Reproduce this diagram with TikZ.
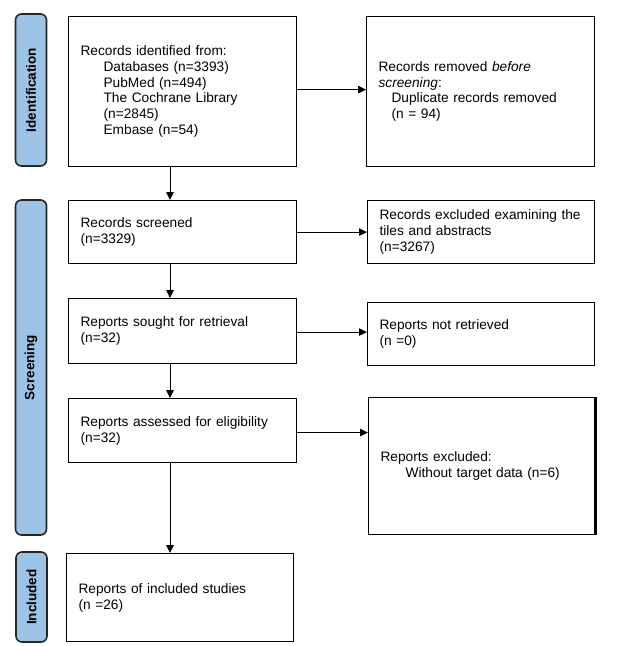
\documentclass[tikz,border=0pt]{standalone}
\usepackage{fontspec}
\setmainfont{Liberation Sans}
\usetikzlibrary{arrows.meta}
\definecolor{labblue}{HTML}{9DC3E6}
\begin{document}
\begin{tikzpicture}[x=1pt,y=-1pt,
  pbox/.style={draw, line width=1.2pt, rectangle, anchor=north west, inner xsep=12pt, inner ysep=2pt, align=left, font=\fontsize{13.7}{15.7}\selectfont},
  lab/.style={draw=black!85, line width=1.6pt, fill=labblue, rounded corners=6pt, rotate=90, inner sep=0pt, font=\fontsize{13.5}{15}\selectfont\bfseries},
  arr/.style={line width=0.9pt, -{Triangle[length=8pt,width=7.5pt]}}]
\useasboundingbox (0,0) rectangle (620,646);
% phase labels
\node[lab, minimum width=152pt, minimum height=31pt] (L1) at (31,90) {Identification};
\node[lab, minimum width=335pt, minimum height=31pt] (L2) at (31,367.5) {Screening};
\node[lab, minimum width=90pt, minimum height=31pt] (L3) at (31.5,597) {Included};
% boxes
\node[pbox, minimum width=228pt, minimum height=150pt, text width=204pt] (b1) at (68,16) {Records identified from:\\
\hspace*{23pt}Databases (n=3393)\\
\hspace*{23pt}PubMed (n=494)\\
\hspace*{23pt}The Cochrane Library\\
\hspace*{23pt}(n=2845)\\
\hspace*{23pt}Embase (n=54)\\[-4pt]};
\node[pbox, minimum width=228pt, minimum height=150pt, text width=204pt] (b2) at (366,16) {Records removed \textit{before}\\
\textit{screening}:\\
\hspace*{13pt}Duplicate records removed\\
\hspace*{13pt}(n = 94)\\[28pt]};
\node[pbox, minimum width=228pt, minimum height=63pt, text width=204pt] (b3) at (68,200) {Records screened\\(n=3329)};
\node[pbox, minimum width=227pt, minimum height=63pt, text width=203pt] (b4) at (367,200) {Records excluded examining the\\tiles and abstracts\\(n=3267)};
\node[pbox, minimum width=228pt, minimum height=65pt, text width=204pt] (b5) at (68,298) {Reports sought for retrieval\\(n=32)};
\node[pbox, minimum width=227pt, minimum height=63pt, text width=203pt] (b6) at (367,302) {Reports not retrieved\\(n =0)};
\node[pbox, minimum width=228pt, minimum height=64pt, text width=204pt] (b7) at (68,398) {Reports assessed for eligibility\\(n=32)};
\node[pbox, minimum width=227pt, minimum height=137pt, text width=203pt] (b8) at (368,397) {Reports excluded:\\
\hspace*{25pt}Without target data (n=6)};
\draw[line width=3pt] ([xshift=-1pt]b8.north east) -- ([xshift=-1pt]b8.south east);
\node[pbox, minimum width=227pt, minimum height=88pt, text width=203pt] (b9) at (66,553) {Reports of included studies\\(n =26)};
% connectors
\draw[arr] ([xshift=102pt]b1.south west) -- ([xshift=102pt]b3.north west);
\draw[arr] ([xshift=102pt]b3.south west) -- ([xshift=102pt]b5.north west);
\draw[arr] ([xshift=102pt]b5.south west) -- ([xshift=102pt]b7.north west);
\draw[arr] ([xshift=102pt]b7.south west) -- ([xshift=104pt]b9.north west);
\draw[arr] ([yshift=2pt]b1.east) -- ([yshift=2pt]b1.east -| b2.west);
\draw[arr] (b3.east) -- (b3.east -| b4.west);
\draw[arr] ([yshift=-1pt]b5.east) -- ([yshift=-1pt]b5.east -| b6.west);
\draw[arr] ([yshift=-2pt]b7.east) -- ([yshift=-2pt]b7.east -| b8.west);
\end{tikzpicture}
\end{document}
